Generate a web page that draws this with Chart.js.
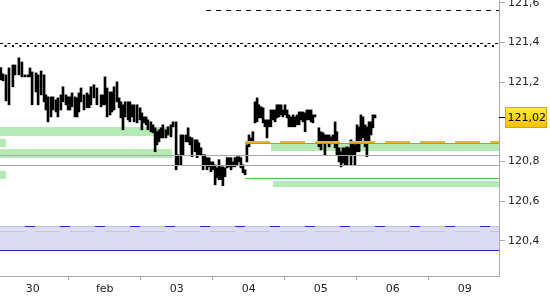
<!DOCTYPE html>
<html><head><meta charset="utf-8">
<script src="https://cdn.jsdelivr.net/npm/chart.js@4"></script>
<style>html,body{margin:0;padding:0;background:#fff}#wrap{width:550px;height:300px;position:relative}</style>
</head><body><div id="wrap"><canvas id="c"></canvas></div>
<script>
// time axis in trading hours since start of 30 Jan session (24 per day)
const dayTicks = [0, 24, 48, 72, 96, 120, 144];
const dayLabels = ['30', 'feb', '03', '04', '05', '06', '09'];
const yTicks = [120.4, 120.6, 120.8, 121.2, 121.4, 121.6];
const lastPrice = 121.02;
const xStart = -10.9, xEnd = 155.43;

const times = [-10.6,-9.9,-8.9,-7.9,-6.6,-5.9,-4.6,-3.6,-2.6,-1.6,-0.9,-0.2,1.1,1.8,2.8,3.8,4.4,5.1,6.1,6.8,7.8,8.4,9.4,10.1,11.1,11.8,12.4,13.1,14.1,14.8,15.4,16.1,17.1,18.1,18.8,19.4,20.4,21.4,22.8,23.4,24.1,24.8,25.8,26.4,27.1,28.1,28.8,29.4,30.1,30.8,31.8,32.4,33.1,33.8,34.8,35.8,36.4,37.1,37.8,38.4,39.4,40.1,40.8,41.4,42.1,42.8,43.4,44.4,45.1,46.1,46.8,47.8,48.4,49.4,50.1,51.1,51.8,52.4,53.1,54.1,54.8,55.4,56.1,56.8,57.4,58.1,58.8,59.4,60.1,60.8,61.4,62.1,62.8,63.4,64.1,64.8,65.4,66.1,66.8,67.4,68.1,68.8,69.4,70.1,70.8,71.4,72.1,72.8,73.4,74.1,74.8,75.4,76.1,76.8,77.4,78.1,78.8,79.4,80.1,80.8,81.4,82.1,82.8,83.4,84.1,84.8,85.4,86.1,86.8,87.4,88.1,88.8,89.4,90.1,90.8,91.4,92.1,92.8,93.4,94.1,95.4,96.1,96.8,97.4,98.1,98.8,99.4,100.1,100.8,101.4,102.1,102.8,103.4,104.1,104.8,105.4,106.1,106.8,107.4,108.1,108.8,109.4,110.1,110.8,111.4,112.1,112.8,113.4,114.1];
const highs = [121.274,121.242,121.237,121.272,121.287,121.287,121.323,121.302,121.237,121.237,121.272,121.252,121.247,121.237,121.257,121.237,121.136,121.126,121.126,121.126,121.111,121.121,121.136,121.177,121.136,121.126,121.126,121.146,121.126,121.121,121.146,121.171,121.136,121.146,121.136,121.177,121.187,121.171,121.136,121.136,121.227,121.171,121.151,121.151,121.177,121.202,121.121,121.101,121.086,121.101,121.101,121.101,121.086,121.086,121.086,121.071,121.045,121.025,121.025,121.010,121.000,120.985,120.970,120.950,120.960,120.970,120.985,120.960,120.975,120.985,121.000,121.000,120.834,120.934,120.934,120.934,120.970,120.924,120.919,120.909,120.909,120.894,120.869,120.834,120.834,120.819,120.819,120.798,120.798,120.783,120.768,120.809,120.773,120.773,120.768,120.819,120.819,120.819,120.798,120.819,120.824,120.824,120.819,120.783,120.758,120.884,120.934,120.919,120.950,121.101,121.121,121.086,121.076,121.071,121.010,121.010,121.010,121.060,121.060,121.060,121.086,121.086,121.086,121.060,121.086,121.060,121.035,121.025,121.035,121.025,121.035,121.050,121.050,121.050,121.045,121.060,121.060,121.060,121.035,121.035,120.970,120.950,120.945,120.934,120.934,120.934,120.924,120.934,121.000,120.950,120.869,120.849,120.869,120.869,120.874,120.869,120.909,120.894,120.884,120.985,120.975,121.035,121.025,120.985,120.975,121.000,121.000,121.035,121.035];
const lows = [121.212,121.207,121.106,121.086,121.177,121.237,121.237,121.227,121.227,121.227,121.227,121.086,121.151,121.086,121.136,121.101,121.060,121.000,121.025,121.060,121.050,121.025,121.060,121.101,121.086,121.060,121.060,121.076,121.025,121.025,121.050,121.101,121.060,121.071,121.071,121.086,121.121,121.086,121.076,121.086,121.086,121.025,121.035,121.050,121.060,121.101,121.071,121.020,120.960,121.025,121.010,121.000,121.025,121.000,120.995,121.010,120.960,120.995,120.985,120.960,120.950,120.945,120.849,120.884,120.899,120.919,120.919,120.919,120.934,120.924,120.975,120.758,120.783,120.783,120.834,120.899,120.899,120.884,120.824,120.849,120.819,120.834,120.834,120.758,120.783,120.758,120.773,120.748,120.758,120.682,120.718,120.708,120.708,120.678,120.723,120.768,120.773,120.758,120.773,120.773,120.783,120.798,120.768,120.743,120.733,120.798,120.874,120.894,120.894,120.995,121.000,121.020,121.020,120.995,120.975,120.919,120.975,120.975,121.010,121.000,121.020,121.025,121.035,121.025,121.035,121.020,120.975,120.975,120.975,120.975,120.985,120.985,121.010,121.000,120.950,121.010,121.010,121.000,120.995,121.025,120.874,120.859,120.894,120.834,120.899,120.874,120.899,120.894,120.869,120.834,120.798,120.773,120.793,120.783,120.783,120.834,120.783,120.834,120.783,120.849,120.849,120.894,120.919,120.874,120.824,120.894,120.934,120.970,121.020];

// support / resistance levels
const resistanceDashed = 121.562, resistanceDashedStart = 57.8;
const resistanceDashA = 121.3955, resistanceDashB = 121.3828;
const leftZoneUpper = [120.974, 120.9286], leftZoneLower = [120.863, 120.8176], leftZoneEnd = 46.4;
const leftStubUpper = [120.9135, 120.8731], leftStubLower = [120.7519, 120.7116], leftStubEnd = -8.9;
const grayLevels = [120.8302, 120.7797];
const rightStart = 70.8;
const orangeLevel = 120.8983;
const greenLevelUpper = 120.8907, greenZoneUpper = [120.8933, 120.8529], greenZoneUpperStart = 79.4;
const greenLevelLower = 120.7141, greenZoneLower = [120.7015, 120.6712], greenZoneLowerStart = 80.1;
const blueZone = [120.4744, 120.3532], blueTop = 120.4718, blueMid = 120.4466, blueBottom = 120.3507;

const bars = times.map((t, i) => ({x: t, y: [lows[i], highs[i]]}));
const seg = (x0, x1, v) => [{x: x0, y: v}, {x: x1, y: v}];

// note: among datasets with equal order, earlier ones are painted on top
function line(data, color, width, dash, offset) {
  return {type: 'line', data, borderColor: color, borderWidth: width, borderDash: dash || [],
    borderDashOffset: offset || 0, pointRadius: 0, fill: false, order: 0, tension: 0};
}
function zone(x0, x1, pair, color) {
  return {type: 'line', data: seg(x0, x1, pair[0]), borderColor: 'rgba(0,0,0,0)',
    borderWidth: 0.01, pointRadius: 0, fill: {target: {value: pair[1]}},
    backgroundColor: color, order: 2};
}
const GREEN_FILL = '#b5eab5', GREEN_LINE = '#4fc84f';

const datasets = [
  zone(xStart, leftZoneEnd, leftZoneUpper, GREEN_FILL),
  zone(xStart, leftZoneEnd, leftZoneLower, GREEN_FILL),
  zone(xStart, leftStubEnd, leftStubUpper, GREEN_FILL),
  zone(xStart, leftStubEnd, leftStubLower, GREEN_FILL),
  zone(greenZoneUpperStart, xEnd, greenZoneUpper, GREEN_FILL),
  zone(greenZoneLowerStart, xEnd, greenZoneLower, GREEN_FILL),
  zone(xStart, xEnd, blueZone, '#dcdcf5'),
  {type: 'bar', data: bars, backgroundColor: '#000', barThickness: 2, grouped: false, order: 1},
  line(seg(xStart, xEnd, blueTop), '#2424e6', 1, [10, 25], 10),
  line(seg(xStart, xEnd, blueTop), '#c4c4d0', 1),
  line(seg(xStart, xEnd, blueMid), '#c8c8c8', 1, [25, 10]),
  line(seg(xStart, xEnd, blueBottom), '#2424e6', 1),
  line(seg(resistanceDashedStart, xEnd, resistanceDashed), '#000', 1, [5, 5]),
  line(seg(xStart, xEnd, resistanceDashA), '#000', 1, [3, 4.5]),
  line(seg(xStart, xEnd, resistanceDashB), '#000', 2, [2, 5.5], 3),
  line(seg(rightStart, xEnd, orangeLevel), '#f2b124', 2, [25, 10]),
  line(seg(rightStart, xEnd, greenLevelUpper), GREEN_LINE, 1),
  line(seg(rightStart, xEnd, greenLevelLower), GREEN_LINE, 1),
  line(seg(xStart, xEnd, grayLevels[0]), '#a8a8a8', 1),
  line(seg(xStart, xEnd, grayLevels[1]), '#a8a8a8', 1),
];

const FONT = {family: 'DejaVu Sans', size: 11};

const priceLabel = {
  id: 'priceLabel',
  afterDraw(chart) {
    const ctx = chart.ctx, y = Math.round(chart.scales.y.getPixelForValue(lastPrice)) - 0.5;
    const x = chart.chartArea.right;
    ctx.save();
    ctx.strokeStyle = '#000'; ctx.lineWidth = 1;
    ctx.beginPath(); ctx.moveTo(x, y); ctx.lineTo(x + 6, y); ctx.stroke();
    const bx = x + 6.5, by = y - 10, bw = 41, bh = 20;
    const g = ctx.createLinearGradient(0, by, 0, by + bh);
    g.addColorStop(0, '#ffec3c'); g.addColorStop(1, '#f4c000');
    ctx.fillStyle = g; ctx.fillRect(bx, by, bw, bh);
    ctx.strokeStyle = '#d8a800'; ctx.strokeRect(bx, by, bw, bh);
    ctx.fillStyle = '#000'; ctx.font = '11px "DejaVu Sans"';
    ctx.textBaseline = 'middle'; ctx.textAlign = 'left';
    ctx.fillText(lastPrice.toFixed(2).replace('.', ','), bx + 2, y + 0.5);
    ctx.restore();
  }
};

new Chart(document.getElementById('c'), {
  data: {datasets},
  plugins: [priceLabel],
  options: {
    responsive: true, maintainAspectRatio: false, animation: false,
    layout: {padding: 0},
    plugins: {legend: {display: false}, tooltip: {enabled: false}},
    scales: {
      x: {
        type: 'linear', min: xStart, max: xEnd, position: 'bottom', offset: false,
        afterBuildTicks: s => { s.ticks = dayTicks.map(v => ({value: v})); },
        ticks: {callback: v => dayLabels[dayTicks.indexOf(v)], font: FONT, color: '#222',
          padding: 3, maxRotation: 0, autoSkip: false},
        grid: {drawOnChartArea: false, tickLength: 4, color: '#aaa'},
        border: {color: '#aaa'},
        afterFit: s => { s.height = 24; s.paddingLeft = 0; s.paddingRight = 0; }
      },
      y: {
        type: 'linear', position: 'right', min: 120.222, max: 121.615,
        afterBuildTicks: s => { s.ticks = yTicks.map(v => ({value: v})); },
        ticks: {callback: v => v.toFixed(1).replace('.', ','), font: FONT, color: '#222', padding: 3},
        grid: {drawOnChartArea: false, tickLength: 6, color: '#aaa'},
        border: {color: '#aaa'},
        afterFit: s => { s.width = 51; s.paddingTop = 0; s.paddingBottom = 0; }
      }
    }
  }
});
</script>
</body></html>
